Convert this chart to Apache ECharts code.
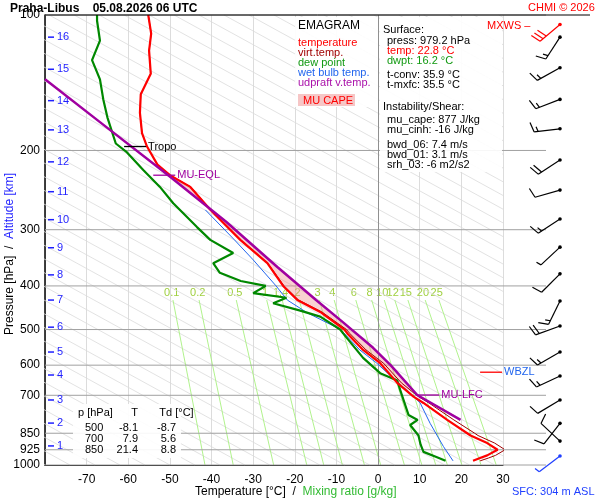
<!DOCTYPE html>
<html>
<head>
<meta charset="utf-8">
<script src="https://cdn.jsdelivr.net/npm/echarts@6/dist/echarts.min.js"></script>
<style>html,body{margin:0;padding:0;background:#fff}#main{width:600px;height:500px}</style>
</head>
<body>
<div id="main"></div>
<script>
// profile data (pressure hPa / temperature degC)
var tempP = [979,965,952,925,894,860,850,794,728,705,657,594,555,510,500,457,430,400,356,316,271,241,227,215,196,183,165,150,135,120,110,100];
var tempT = [22.8,24.5,26.2,28.7,26.2,22.2,21.4,16.6,10.9,8.5,4.6,0.5,-3.6,-7.4,-8.1,-13.9,-19.4,-22.8,-26.6,-33.1,-40.3,-45.1,-50.0,-53.0,-55.5,-56.7,-57.2,-57.0,-54.6,-55.0,-54.5,-55.2];
var virtT = [24.5,26.5,28.2,30.5,28.0,24.0,23.2,18.2,12.2,9.7,5.6,1.3,-2.9,-6.8,-7.6,-13.5,-19.1,-22.6,-26.5,-33.0,-40.2,-45.0,-50.0,-53.0,-55.5,-56.7,-57.2,-57.0,-54.6,-55.0,-54.5,-55.2];
var dewP = [979,960,935,900,860,815,794,774,681,649,625,578,510,500,468,454,437,425,415,400,390,374,356,338,316,296,262,241,221,202,193,169,154,139,126,114,103,100];
var dewT = [16.2,14,10.9,10.2,9.7,7.7,9.5,7.3,5.3,4.6,0.5,-3.6,-8.4,-9.1,-13.9,-18.7,-25.2,-22,-30,-27,-33,-38,-39.6,-34.8,-40.3,-43.5,-49.2,-52.4,-56.4,-60.3,-63,-65,-66,-66.8,-68.7,-66.8,-67.5,-67.5];
var wbP = [979,910,808,728,692,654,594,555,500,459,430,400,350,316,271];
var wbT = [18,15.7,12.5,10.1,7.7,4.6,-0.3,-4.4,-9,-17,-21.8,-24.5,-30,-34.5,-41.5];
var parP = [794,699,600,549,482,430,363,288,227,173,139];
var parT = [19.8,9.4,3.0,-1.2,-8.4,-14.9,-24.2,-36.5,-50.4,-66.8,-80];
var lfcP = 699, eqlP = 227;

var pressureTicks = [100,200,300,400,500,600,700,850,925,1000];
var tempTicks = [-70,-60,-50,-40,-30,-20,-10,0,10,20,30];
var kmLabels = [1,2,3,4,5,6,7,8,9,10,11,12,13,14,15,16];
var kmP = [907,807,717,631,561,494,430,378,329,285,247,212,180,155,132,112];
var mixRatios = [0.1,0.2,0.5,1,1.4,2,3,4,6,8,10,12,15,20,25];

// wind barbs: pressure, direction (deg), speed (kt), colour
var windP = [105,112,131,154,179,210,245,284,328,376,432,491,561,634,717,808,885,955];
var windDir = [230,213,241,249,263,237,254,237,227,225,206,250,240,245,239,218,313,233];
var windSpd = [30,15,15,15,15,20,10,15,5,10,15,20,15,15,10,10,10,3];
var windCol = ['#ff0000','#000','#000','#000','#000','#000','#000','#000','#000','#000','#000','#000','#000','#000','#000','#000','#000','#1f3fff'];

var marks = [
  {p:196, t:-61, text:'Tropo', color:'#000', tc:'#000'},
  {p:227, t:-54, text:'MU-EQL', color:'#a000a0', tc:'#a000a0'},
  {p:699, t:9.4, text:'MU-LFC', color:'#a000a0', tc:'#a000a0'},
  {p:622, t:24.5, text:'WBZL', color:'#ff0000', tc:'#2266ee'}
];

function pts(P, T) {
  return P.map(function (p, i) { return [T[i], Math.log10(p)]; });
}

// background diagonal guide lines
var guides = [];
for (var t0 = -80; t0 <= 240; t0 += 6) guides.push([[t0, 3], [t0 - 197, 2]]);
// mixing ratio lines
function tdOf(w, p) {
  var e = w * p / (622 + w), l = Math.log(e / 6.112);
  return 243.5 * l / (17.67 - l);
}
var mixSeries = mixRatios.map(function (w) {
  return [[tdOf(w, 1000), 3], [tdOf(w, 430), Math.log10(430)]];
});

// CAPE polygon
var capeTop = pts(parP, parT).filter(function (d, i) { return parP[i] <= lfcP && parP[i] >= eqlP; });
var capeBot = pts(tempP, tempT).filter(function (d, i) { return tempP[i] < lfcP && tempP[i] > eqlP; }).reverse();
var capePoly = capeTop.concat(capeBot);

var myChart = echarts.init(document.getElementById('main'));
var series = [];
guides.forEach(function (a) {
  series.push({type:'line', data:a, showSymbol:false, silent:true, z:1,
    lineStyle:{color:'#dadada', width:0.8}});
});
mixSeries.forEach(function (m) {
  series.push({type:'line', data:m, showSymbol:false, silent:true, z:1,
    lineStyle:{color:'#a8f080', width:0.9}});
});
series.push({
  type:'custom', silent:true, z:1, clip:false,
  data: mixRatios.map(function (w) { return [tdOf(w, 415), Math.log10(415), w]; }),
  renderItem: function (params, api) {
    var c = api.coord([api.value(0), api.value(1)]);
    return {type:'text', x:c[0], y:c[1], style:{text:String(api.value(2)), fill:'#a0d040',
      font:'11px "Liberation Sans", Arial', align:'center', verticalAlign:'middle'}};
  }
});
// pressure levels
series.push({
  type:'custom', silent:true, z:2, clip:false,
  data: pressureTicks.map(function (p) { return [-80, Math.log10(p), p]; }),
  renderItem: function (params, api) {
    var c = api.coord([-80, api.value(1)]);
    var r = api.coord([30, api.value(1)]);
    return {type:'group', children:[
      {type:'line', shape:{x1:c[0], y1:c[1], x2:r[0] + 43, y2:c[1]}, style:{stroke:'#a0a0a0', lineWidth:1}},
      {type:'text', x:c[0] - 5, y:c[1], style:{text:String(api.value(2)), fill:'#000',
        font:'12px "Liberation Sans", Arial', align:'right', verticalAlign:'middle'}}
    ]};
  }
});
// km labels
series.push({
  type:'custom', silent:true, z:3, clip:false,
  data: kmP.map(function (p, i) { return [-80, Math.log10(p), kmLabels[i]]; }),
  renderItem: function (params, api) {
    var c = api.coord([-80, api.value(1)]);
    return {type:'group', children:[
      {type:'line', shape:{x1:c[0] + 3, y1:c[1], x2:c[0] + 9, y2:c[1]}, style:{stroke:'#1f1fff', lineWidth:1.5}},
      {type:'text', x:c[0] + 12, y:c[1], style:{text:String(api.value(2)), fill:'#1f1fff',
        font:'11px "Liberation Sans", Arial', align:'left', verticalAlign:'middle'}}
    ]};
  }
});
// CAPE
series.push({
  type:'custom', silent:true, z:4,
  data:[[0, 2]],
  renderItem: function (params, api) {
    return {type:'polygon', shape:{points: capePoly.map(function (d) { return api.coord(d); })},
      style:{fill:'rgba(240,140,140,0.4)'}};
  }
});
series.push({type:'line', name:'wet bulb', data:pts(wbP, wbT), showSymbol:false, z:5, lineStyle:{color:'#2266ee', width:1}});
series.push({type:'line', name:'dew point', data:pts(dewP, dewT), showSymbol:false, z:5, lineStyle:{color:'#008800', width:2.2}});
series.push({type:'line', name:'virt.temp.', data:pts(tempP, virtT), showSymbol:false, z:5, lineStyle:{color:'#a00000', width:1}});
series.push({type:'line', name:'temperature', data:pts(tempP, tempT), showSymbol:false, z:6, lineStyle:{color:'#ff0000', width:2.2}});
series.push({type:'line', name:'parcel', data:pts(parP, parT), showSymbol:false, z:7, lineStyle:{color:'#a000a0', width:2.5}});
// level annotations
series.push({
  type:'custom', silent:true, z:8, clip:false,
  data: marks.map(function (m, i) { return [m.t, Math.log10(m.p), i]; }),
  renderItem: function (params, api) {
    var m = marks[api.value(2)];
    var c = api.coord([api.value(0), api.value(1)]);
    return {type:'group', children:[
      {type:'line', shape:{x1:c[0], y1:c[1], x2:c[0] + 22, y2:c[1]}, style:{stroke:m.color, lineWidth:1.3}},
      {type:'text', x:c[0] + 24, y:c[1], style:{text:m.text, fill:m.tc,
        font:'11px "Liberation Sans", Arial', align:'left', verticalAlign:'middle',
        backgroundColor: m.text === 'WBZL' ? 'rgba(255,255,255,0.9)' : null}}
    ]};
  }
});
// wind barbs
series.push({
  type:'custom', silent:true, z:8, clip:false,
  data: windP.map(function (p, i) { return [30, Math.log10(p), windDir[i], windSpd[i], i]; }),
  renderItem: function (params, api) {
    var c = api.coord([30, api.value(1)]);
    var x0 = c[0] + 57, y0 = c[1];
    var d = api.value(2) * Math.PI / 180, spd = api.value(3);
    var col = windCol[api.value(4)];
    var ux = Math.sin(d), uy = -Math.cos(d), L = 26;
    var tx = x0 + ux * L, ty = y0 + uy * L;
    var px = -uy, py = ux;
    if (py > 0 || (py === 0 && px > 0)) { px = -px; py = -py; }
    var kids = [
      {type:'line', shape:{x1:x0, y1:y0, x2:tx, y2:ty}, style:{stroke:col, lineWidth:1.2}},
      {type:'circle', shape:{cx:x0, cy:y0, r:1.8}, style:{fill:col}}
    ];
    var n = Math.round(spd / 5), full = Math.floor(n / 2), half = n % 2, k = 0;
    for (var f = 0; f < full; f++, k++) {
      var bx = tx - ux * k * 4, by = ty - uy * k * 4;
      kids.push({type:'line', shape:{x1:bx, y1:by, x2:bx + px * 10 + ux * 3, y2:by + py * 10 + uy * 3}, style:{stroke:col, lineWidth:1.2}});
    }
    if (half) {
      var hx = tx - ux * k * 4, hy = ty - uy * k * 4;
      kids.push({type:'line', shape:{x1:hx, y1:hy, x2:hx + px * 5 + ux * 1.5, y2:hy + py * 5 + uy * 1.5}, style:{stroke:col, lineWidth:1.2}});
    }
    return {type:'group', children:kids};
  }
});

var F = '"Liberation Sans", Arial';
function txt(x, y, s, color, size, extra) {
  var o = {type:'text', x:x, y:y, z:20, style:{text:s, fill:color || '#000', font:(size || 11) + 'px ' + F}};
  if (extra) for (var k in extra) o.style[k] = extra[k];
  return o;
}
var graphics = [
  {type:'rect', shape:{x:295, y:17, width:83, height:90}, style:{fill:'rgba(255,255,255,0.92)'}, z:15},
  {type:'rect', shape:{x:380, y:17, width:122, height:155}, style:{fill:'rgba(255,255,255,0.92)'}, z:15},
  {type:'rect', shape:{x:73, y:404, width:108, height:54}, style:{fill:'rgba(255,255,255,0.92)'}, z:15},
  {type:'rect', shape:{x:298, y:94, width:57, height:12}, style:{fill:'#f6c6c6'}, z:16},
  {type:'line', shape:{x1:45, y1:15, x2:590, y2:15}, style:{stroke:'#000', lineWidth:1}, z:20},
  txt(10, 3, 'Praha-Libus    05.08.2026 06 UTC', '#000', 12, {font:'bold 12px ' + F}),
  txt(528, 2, 'CHMI © 2026', '#ff0000', 11),
  txt(487, 20, 'MXWS –', '#ff0000', 11),
  txt(298, 20, 'EMAGRAM', '#000', 12),
  txt(298, 37, 'temperature', '#ff0000'),
  txt(298, 47, 'virt.temp.', '#a00000'),
  txt(298, 57, 'dew point', '#119911'),
  txt(298, 67, 'wet bulb temp.', '#2266ee'),
  txt(298, 77, 'udpraft v.temp.', '#aa10aa'),
  txt(303, 95, 'MU CAPE', '#ff0000'),
  txt(383, 24, 'Surface:'),
  txt(387, 35, 'press: 979.2 hPa'),
  txt(387, 45, 'temp: 22.8 °C', '#ff0000'),
  txt(387, 55, 'dwpt: 16.2 °C', '#119911'),
  txt(387, 69, 't-conv: 35.9 °C'),
  txt(387, 79, 't-mxfc: 35.5 °C'),
  txt(383, 101, 'Instability/Shear:'),
  txt(387, 114, 'mu_cape: 877 J/kg'),
  txt(387, 124, 'mu_cinh: -16 J/kg'),
  txt(387, 139, 'bwd_06: 7.4 m/s'),
  txt(387, 149, 'bwd_01: 3.1 m/s'),
  txt(387, 159, 'srh_03: -6 m2/s2'),
  txt(78, 407, 'p [hPa]      T       Td [°C]'),
  txt(85, 422, '500\n700\n850', '#000', 11, {lineHeight:11}),
  txt(138, 422, '-8.1\n7.9\n21.4', '#000', 11, {lineHeight:11, align:'right'}),
  txt(176, 422, '-8.7\n5.6\n8.8', '#000', 11, {lineHeight:11, align:'right'}),
  txt(195, 486, '{a|Temperature [°C]  /  }{b|Mixing ratio [g/kg]}', '#000', 12,
    {rich:{a:{fill:'#000', font:'12px ' + F}, b:{fill:'#33bb33', font:'12px ' + F}}}),
  {type:'text', x:4, y:335, rotation:Math.PI / 2, z:20, style:{text:'{a|Pressure [hPa]  /  }{b|Altitude [km]}',
    rich:{a:{fill:'#000', font:'12px ' + F}, b:{fill:'#1f1fff', font:'12px ' + F}}}},
  txt(512, 486, 'SFC: 304 m ASL', '#1f3fff', 11)
];

var option = {
  animation:false,
  grid:{left:45, right:97, top:15, bottom:35},
  xAxis:{type:'value', min:-80, max:30, interval:10,
    axisLine:{lineStyle:{color:'#000'}}, axisTick:{show:false},
    axisLabel:{color:'#000', fontSize:12, fontFamily:'Liberation Sans', margin:9,
      formatter:function (v) { return tempTicks.indexOf(v) >= 0 ? String(v) : ''; }},
    splitLine:{show:true, lineStyle:{color:'#dcdcdc', width:1}}},
  yAxis:{type:'value', min:2, max:3, inverse:true,
    axisLine:{show:true, onZero:false, lineStyle:{color:'#000', width:1.5}},
    axisTick:{show:false}, axisLabel:{show:false}, splitLine:{show:false}},
  series:series.concat([{type:'line', data:[], markLine:{silent:true, symbol:'none', label:{show:false},
    lineStyle:{color:'#909090', type:'solid', width:1}, data:[{xAxis:0}]}}]),
  graphic:graphics
};
myChart.setOption(option);
</script>
</body>
</html>
